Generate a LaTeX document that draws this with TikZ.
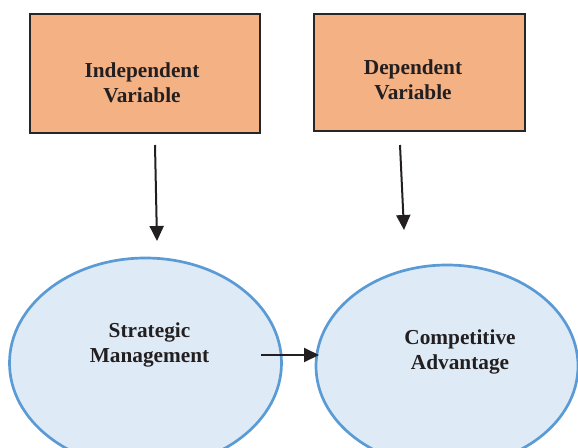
\documentclass[tikz,border=0pt]{standalone}
\usepackage{fontspec}
\setmainfont{Liberation Serif}
\usetikzlibrary{shapes.geometric,arrows.meta}
\definecolor{boxfill}{HTML}{F4B183}
\definecolor{ellfill}{HTML}{DEEBF7}
\definecolor{elldraw}{HTML}{5B9BD5}
\definecolor{txt}{HTML}{231F20}
\begin{document}
\begin{tikzpicture}[x=1pt,y=-1pt,
  varbox/.style={draw=black!85, line width=1.3pt, fill=boxfill, inner sep=0pt},
  conc/.style={ellipse, draw=elldraw, line width=2.7pt, fill=ellfill, inner sep=0pt},
  lbl/.style={font=\fontsize{21.3}{25}\selectfont\bfseries, text=txt, align=center, inner sep=0pt},
  arr/.style={draw=txt, line width=2pt, -{Triangle[length=15pt,width=14pt]}}]
\useasboundingbox (0,0) rectangle (578,447);
\clip (0,0) rectangle (578,447);
\node[varbox, minimum width=230pt, minimum height=119pt] (ivbox) at (145,73.5) {};
\node[varbox, minimum width=211pt, minimum height=117pt] (dvbox) at (419.5,72.5) {};
\node[lbl] (ivt) at (142,83) {Independent\\Variable};
\node[lbl] (dvt) at (413,80) {Dependent\\Variable};
\node[conc, minimum width=272pt, minimum height=210pt] (sm) at (145.5,363) {};
\node[conc, minimum width=262pt, minimum height=202pt] (ca) at (447,366) {};
\node[lbl] (smt) at (149.5,345) {Strategic\\Management};
\node[lbl] (cat) at (460,352) {Competitive\\Advantage};
\coordinate (a1s) at (155,145);
\coordinate (a1e) at (157,241);
\coordinate (a2s) at (400,145);
\coordinate (a2e) at (404,230);
\coordinate (a3s) at (261,355);
\coordinate (a3e) at (319,355);
\draw[arr] (a1s) -- (a1e);
\draw[arr] (a2s) -- (a2e);
\draw[arr] (a3s) -- (a3e);
\end{tikzpicture}
\end{document}
